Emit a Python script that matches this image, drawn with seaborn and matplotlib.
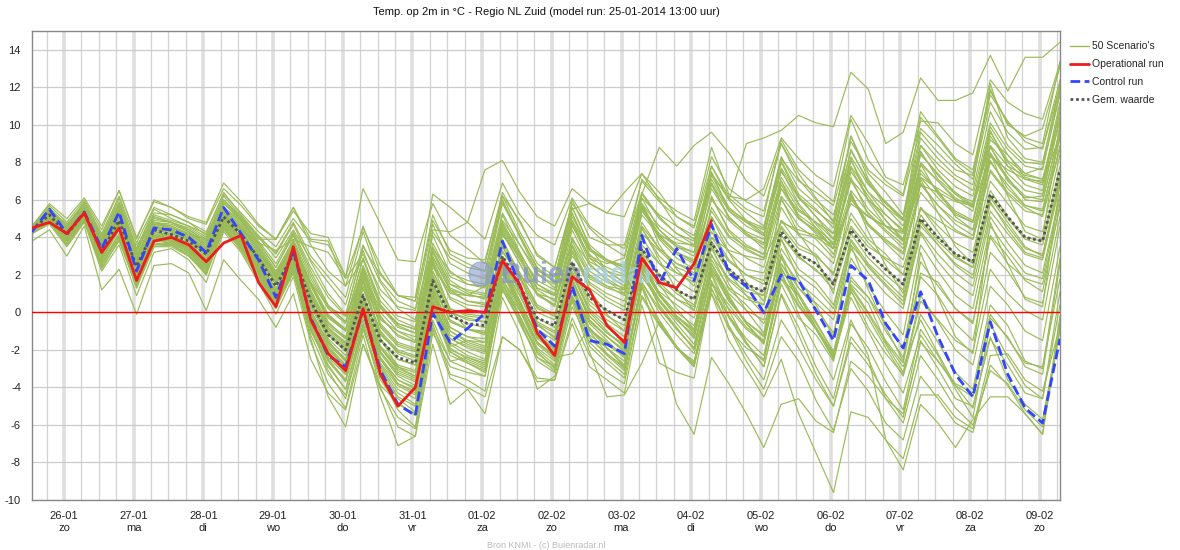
import pandas as pd
import matplotlib
matplotlib.use("Agg")
import matplotlib.pyplot as plt
from matplotlib.lines import Line2D
from matplotlib.patches import Ellipse
import seaborn as sns

# 6-hourly steps (hours after the model run of 25-01-2014 13:00)
hours = list(range(0, 355, 6))

day_dates = ["26-01", "27-01", "28-01", "29-01", "30-01", "31-01", "01-02", "02-02",
             "03-02", "04-02", "05-02", "06-02", "07-02", "08-02", "09-02"]
day_names = ["zo", "ma", "di", "wo", "do", "vr", "za", "zo",
             "ma", "di", "wo", "do", "vr", "za", "zo"]

operational = [4.5, 4.8, 4.2, 5.3, 3.2, 4.5, 1.7, 3.8, 4.0, 3.6, 2.7, 3.7, 4.1, 1.6, 0.3, 3.5,
               -0.4, -2.2, -3.1, 0.2, -3.3, -5.0, -4.0, 0.3, 0.0, 0.1, 0.0, 2.75, 1.5, -1.1,
               -2.3, 1.9, 1.2, -0.7, -1.6, 2.9, 1.6, 1.3, 2.6, 4.9]

control = [4.3, 5.5, 4.2, 5.35, 3.4, 5.35, 2.2, 4.5, 4.4, 4.0, 3.2, 5.6, 4.2, 2.8, 0.8, 3.3,
           -0.3, -2.3, -2.9, 0.1, -3.1, -4.9, -5.5, -0.05, -1.6, -0.85, -0.05, 3.8, 1.4, -0.9,
           -1.8, 1.4, -1.5, -1.7, -2.2, 4.1, 1.5, 3.4, 1.7, 4.7, 2.1, 1.4, 0.0, 2.0, 1.7, 0.1,
           -1.5, 2.5, 1.7, -0.6, -1.9, 1.1, -1.3, -3.3, -4.5, -0.5, -3.3, -5.1, -5.9, -1.4]

gem_waarde = [4.4, 5.2, 4.15, 5.3, 3.25, 4.9, 2.45, 4.4, 4.15, 3.8, 3.1, 5.1, 4.15, 2.9, 1.4, 3.1,
              0.6, -1.2, -2.0, 0.9, -1.5, -2.4, -2.7, 1.7, -0.15, -0.6, -0.7, 3.0, 1.4, -0.3,
              -0.7, 2.7, 0.8, 0.1, -0.4, 3.4, 2.0, 1.2, 0.7, 3.7, 2.3, 1.5, 1.1, 4.3, 3.1, 2.6,
              1.5, 4.4, 3.2, 2.3, 1.5, 5.0, 4.0, 3.1, 2.7, 6.3, 5.1, 4.0, 3.8, 7.6]

# 50 ensemble members, one row per member
scenarios = [
    [4.5, 5.3, 4.4, 5.5, 3.6, 5.2, 2.9, 4.7, 4.5, 4.1, 3.4, 5.5, 4.6, 3.3, 1.9, 3.6, 1.4, -0.2, -0.9, 2.0, -0.4, -1.0, -1.5, 2.9, 1.2, 0.6, 0.4, 4.2, 2.6, 1.0, 0.3, 3.8, 2.0, 1.4, 0.9, 4.8, 3.4, 2.6, 2.3, 5.4, 4.0, 3.3, 2.9, 6.2, 5.0, 4.3, 3.4, 6.5, 5.3, 4.4, 3.6, 7.2, 6.1, 5.2, 4.8, 8.5, 7.2, 6.0, 5.9, 9.8],
    [4.3, 5.4, 4.1, 5.2, 3.1, 5.0, 2.2, 4.3, 4.1, 3.7, 2.8, 5.2, 4.0, 2.5, 0.8, 2.9, -0.3, -2.4, -3.3, 0.2, -2.8, -4.1, -4.6, 0.6, -1.8, -1.5, -1.6, 2.5, 0.6, -1.4, -2.1, 1.5, -1.2, -1.9, -2.6, 2.8, 1.0, -0.2, -0.9, 3.1, 1.2, 0.4, -0.6, 1.8, 0.9, -0.8, -2.2, 1.5, 0.5, -1.6, -2.9, -0.4, -2.2, -3.9, -5.1, -1.3, -3.6, -4.9, -5.7, -0.9],
    [4.5, 5.0, 4.4, 5.6, 3.9, 5.8, 3.2, 5.2, 4.9, 4.6, 4.0, 6.2, 5.1, 4.0, 2.9, 4.4, 2.8, 1.6, 0.4, 3.6, 1.6, 0.2, -0.4, 4.3, 2.9, 2.4, 2.2, 5.9, 4.0, 2.1, 1.3, 5.1, 3.4, 2.8, 2.5, 6.1, 5.2, 4.6, 4.1, 7.4, 6.1, 5.3, 4.6, 8.2, 7.0, 6.4, 5.7, 9.1, 7.6, 6.8, 6.2, 9.8, 8.9, 7.9, 7.1, 11.2, 9.6, 8.7, 8.8, 12.4],
    [4.2, 4.9, 3.8, 5.0, 2.6, 4.0, 1.3, 3.6, 3.7, 3.2, 2.2, 4.4, 3.4, 2.0, 0.3, 2.1, -1.0, -2.8, -4.1, -0.6, -3.2, -4.6, -5.3, 0.2, -2.3, -2.7, -3.1, 1.7, 0.4, -1.6, -2.3, 1.2, -0.5, -1.3, -2.0, 2.4, 1.1, 0.4, -0.3, 3.0, 1.8, 1.1, 0.9, 4.6, 3.4, 3.0, 2.1, 5.3, 3.9, 3.1, 2.0, 5.6, 4.3, 3.0, 2.4, 6.1, 4.8, 3.5, 3.0, 7.2],
    [4.3, 5.2, 4.3, 5.4, 3.9, 4.6, 3.6, 4.8, 4.5, 4.2, 3.9, 5.0, 4.4, 3.7, 3.3, 3.9, 3.5, 3.2, 1.8, 3.1, 1.2, 0.3, 0.1, 3.4, 2.2, 1.5, 1.4, 4.1, 3.0, 1.2, 0.6, 3.9, 2.6, 1.7, 1.0, 4.2, 3.3, 2.4, 2.0, 4.6, 3.2, 2.3, 2.1, 4.9, 4.2, 4.0, 3.4, 6.0, 5.1, 4.6, 4.3, 7.2, 6.6, 6.0, 5.8, 8.9, 7.8, 7.3, 7.1, 10.2],
    [4.4, 5.1, 4.0, 5.2, 3.0, 4.7, 2.1, 4.1, 3.9, 3.5, 2.6, 4.8, 3.8, 2.4, 1.0, 2.7, 0.0, -1.9, -2.8, 0.4, -2.1, -3.3, -3.7, 1.1, -1.0, -1.6, -1.9, 2.2, 0.5, -1.3, -1.9, 1.8, -0.4, -1.3, -2.1, 2.1, 0.4, -0.8, -2.0, 1.0, -1.5, -3.0, -4.5, -2.5, -5.4, -7.5, -9.6, -5.3, -5.6, -6.8, -8.4, -4.9, -5.9, -7.2, -5.7, -4.5, -4.5, -5.4, -6.5, -0.8],
    [4.6, 5.5, 4.6, 5.7, 3.8, 5.6, 2.9, 4.8, 4.6, 4.2, 3.6, 5.6, 4.9, 3.6, 2.2, 3.8, 1.5, -0.5, -1.4, 2.1, -0.8, -1.8, -2.1, 2.8, 0.7, 0.2, -0.1, 4.5, 2.9, 1.0, 0.4, 4.4, 2.5, 1.8, 1.2, 5.5, 4.4, 3.6, 3.2, 7.1, 5.5, 4.9, 4.5, 8.3, 6.6, 5.8, 4.9, 9.4, 7.4, 6.4, 5.2, 9.6, 8.5, 7.6, 7.3, 11.8, 10.1, 9.3, 9.0, 13.4],
    [4.2, 4.8, 3.6, 4.9, 2.4, 3.8, 1.4, 3.5, 3.6, 3.0, 2.1, 4.6, 3.5, 2.1, 0.6, 2.4, -0.8, -3.1, -4.6, -0.9, -3.4, -5.2, -6.1, -0.6, -3.3, -3.6, -4.2, 0.8, -1.1, -4.1, -3.4, 0.3, -1.6, -2.5, -3.3, 1.9, 0.6, -0.4, -1.3, 2.8, 1.3, 0.7, 0.4, 4.1, 3.0, 2.2, 1.6, 4.6, 3.5, 2.9, 2.4, 5.5, 4.9, 4.3, 3.9, 7.6, 6.4, 5.6, 5.1, 8.9],
    [4.5, 5.6, 4.6, 5.9, 4.2, 6.2, 3.7, 5.6, 5.2, 4.8, 4.3, 6.3, 5.3, 4.3, 3.5, 5.0, 3.8, 3.6, 1.9, 6.6, 4.7, 2.8, 2.7, 5.8, 4.1, 3.4, 2.6, 6.4, 4.8, 3.1, 2.4, 5.6, 3.5, 2.2, 1.6, 5.6, 4.1, 3.2, 2.8, 6.0, 4.9, 4.1, 3.6, 7.0, 5.5, 4.8, 4.2, 7.8, 6.4, 5.6, 4.9, 8.6, 7.1, 6.3, 5.9, 9.6, 8.1, 7.4, 7.7, 11.6],
    [4.3, 5.0, 3.9, 5.1, 2.9, 4.4, 1.8, 3.9, 3.8, 3.3, 2.4, 4.8, 3.7, 2.2, 0.5, 2.5, -0.9, -2.9, -4.1, -0.7, -4.0, -6.1, -6.6, -1.1, -2.9, -3.2, -3.4, 1.2, -0.4, -2.6, -3.2, 0.8, -1.0, -2.2, -3.0, 1.5, -0.6, -1.9, -2.7, 1.2, -0.2, -1.4, -2.3, 2.0, 0.4, -0.9, -2.4, 1.9, 0.8, -0.6, -1.9, 2.7, 1.4, 0.2, -0.6, 4.0, 2.6, 1.8, 1.5, 5.6],
    [4.4, 5.2, 4.2, 5.3, 3.4, 5.0, 2.6, 4.5, 4.3, 3.9, 3.1, 5.2, 4.3, 2.9, 1.5, 3.2, 0.9, -0.9, -1.6, 1.4, -1.0, -2.0, -2.3, 2.2, 0.2, -0.2, -0.3, 3.5, 1.9, 0.2, -0.2, 3.2, 1.3, 0.6, 0.1, 4.0, 2.6, 1.7, 1.1, 4.3, 2.8, 2.0, 1.5, 4.9, 3.6, 3.1, 2.0, 5.0, 3.7, 2.8, 2.0, 5.6, 4.6, 3.7, 3.2, 7.0, 5.8, 4.6, 4.3, 8.4],
    [3.8, 4.4, 3.0, 4.6, 1.2, 2.3, -0.1, 2.5, 2.6, 2.1, 0.1, 2.8, 1.7, 0.7, -0.8, 1.0, -2.5, -4.3, -5.2, -1.7, -3.9, -4.8, -5.5, -0.9, -3.5, -4.0, -4.5, -1.3, -2.0, -3.5, -3.6, -0.6, -2.9, -3.6, -4.3, 0.4, -2.7, -3.2, -3.5, 1.3, -0.9, -1.9, -2.5, 1.5, -0.3, -1.2, -2.6, 1.2, -0.8, -2.2, -3.3, 0.6, -0.4, -1.5, -2.1, 2.3, 1.0, 0.1, -0.4, 4.6],
    [4.6, 5.7, 4.8, 6.0, 4.4, 6.5, 4.0, 5.9, 5.6, 5.0, 4.7, 6.6, 5.7, 4.6, 3.9, 5.4, 4.2, 4.0, 1.9, 4.5, 2.5, 0.9, 0.6, 4.9, 3.3, 2.9, 2.8, 6.2, 4.9, 3.0, 2.4, 5.8, 4.5, 3.6, 3.0, 7.1, 6.1, 5.4, 4.9, 8.8, 6.3, 5.5, 5.1, 9.2, 7.6, 6.7, 5.9, 10.3, 8.1, 7.0, 6.3, 10.7, 9.4, 8.2, 7.6, 11.9, 10.0, 9.4, 9.8, 13.1],
    [4.4, 5.3, 4.1, 5.3, 3.2, 4.9, 2.3, 4.2, 4.0, 3.6, 2.7, 5.0, 4.0, 2.6, 1.1, 2.9, 0.1, -1.6, -2.5, 0.5, -1.9, -3.0, -3.4, 1.2, -0.8, -1.3, -1.4, 2.4, 0.9, -0.9, -1.5, 2.0, 0.1, -0.8, -1.5, 2.6, 1.0, 0.0, -0.7, 2.4, 0.6, -0.5, -1.2, 2.3, 0.9, -0.6, -2.1, 1.1, -0.3, -1.9, -3.4, -0.1, -1.6, -3.2, -4.1, 0.4, -0.7, -2.6, -3.0, 2.9],
    [4.5, 5.4, 4.4, 5.5, 3.7, 5.5, 3.0, 4.8, 4.7, 4.3, 3.7, 5.8, 5.0, 3.7, 2.4, 4.2, 2.2, 0.4, -0.5, 2.9, 0.6, -0.4, -0.8, 4.4, 4.3, 4.8, 7.6, 8.1, 6.4, 5.1, 4.6, 6.6, 5.8, 5.3, 5.1, 7.4, 6.4, 5.1, 4.5, 7.8, 6.0, 4.9, 4.2, 7.6, 5.8, 4.7, 3.6, 7.5, 6.2, 4.9, 3.8, 7.4, 6.5, 5.1, 4.4, 8.4, 7.1, 6.2, 6.0, 9.6],
    [4.3, 5.1, 4.0, 5.2, 3.0, 4.7, 2.0, 4.2, 3.9, 3.4, 2.4, 5.0, 3.9, 2.3, 0.7, 2.8, -0.5, -2.5, -3.6, 0.1, -2.5, -3.6, -4.0, 1.0, -1.4, -1.9, -2.2, 2.6, 0.9, -1.1, -1.8, 2.1, 0.0, -1.0, -1.9, 3.1, 1.5, 0.2, -0.9, 3.5, 1.5, 0.1, -1.1, 3.9, 1.8, 0.4, -1.3, 3.6, 1.2, -0.8, -2.6, 3.2, 0.8, -1.3, -2.2, 4.8, 2.6, 0.7, 0.3, 6.9],
    [4.4, 5.3, 4.3, 5.4, 3.5, 5.1, 2.7, 4.6, 4.4, 4.0, 3.3, 5.4, 4.5, 3.2, 1.8, 3.5, 1.2, -0.6, -1.3, 1.8, -0.6, -1.6, -1.9, 2.6, 0.8, 0.4, 0.3, 4.3, 2.6, 0.9, 0.4, 4.0, 2.2, 1.6, 1.3, 5.4, 4.2, 3.5, 3.2, 7.4, 6.0, 9.0, 9.3, 9.7, 10.5, 10.1, 9.9, 12.8, 11.9, 9.0, 9.6, 12.5, 11.3, 11.3, 11.7, 13.7, 11.8, 13.6, 13.6, 14.4],
    [4.3, 5.0, 3.9, 5.1, 2.8, 4.5, 1.9, 4.0, 3.8, 3.3, 2.5, 4.7, 3.8, 2.4, 1.0, 2.6, -0.2, -1.9, -3.0, 0.1, -2.2, -3.4, -3.9, 0.5, -1.6, -2.1, -2.5, 1.8, -0.2, -2.1, -3.0, 0.6, -2.1, -4.5, -4.4, -2.7, -0.5, -1.9, -2.6, 1.5, 0.2, -0.9, -1.6, 2.6, 1.3, 0.5, -0.4, 3.4, 2.1, 1.0, 0.2, 4.2, 2.7, 1.6, 0.9, 5.1, 3.7, 2.5, 2.1, 6.3],
    [4.5, 5.4, 4.5, 5.6, 3.8, 5.4, 3.0, 4.9, 4.8, 4.3, 3.6, 5.6, 4.8, 3.5, 2.1, 3.9, 1.8, 0.2, -0.6, 2.5, 0.3, -0.8, -1.1, 3.3, 1.5, 1.0, 0.7, 4.7, 3.1, 1.7, 1.2, 4.9, 3.3, 2.7, 2.4, 5.8, 3.6, 2.3, 1.4, 4.6, 2.1, 0.9, -0.1, 3.0, 0.6, -0.9, -2.4, 0.8, -1.0, -2.8, -4.3, -1.2, -2.6, -3.9, -4.5, -0.3, -1.3, -2.9, -3.3, 2.6],
    [4.2, 4.7, 3.5, 4.8, 2.2, 3.6, 0.9, 3.2, 3.4, 2.8, 1.6, 4.3, 3.2, 1.6, -0.1, 1.9, -1.6, -3.8, -5.1, -1.2, -4.5, -7.1, -6.6, -1.7, -4.9, -4.1, -5.4, -1.3, -2.0, -3.7, -3.6, -0.3, -2.3, -3.2, -3.8, 0.8, -0.7, -1.9, -2.9, 1.6, 0.4, -0.8, -1.5, 2.9, 1.6, 0.8, -0.1, 3.6, 2.5, 1.5, 0.6, 4.6, 3.6, 2.5, 1.8, 5.9, 4.4, 3.2, 2.9, 7.0],
    [4.4, 5.1, 4.3, 5.2, 3.6, 4.8, 3.1, 4.4, 4.2, 3.9, 3.4, 4.8, 4.0, 3.1, 2.2, 3.3, 1.6, 0.3, -0.2, 1.9, 0.2, -0.6, -0.9, 2.4, 1.1, 0.6, 0.5, 3.2, 2.0, 1.0, 0.7, 3.0, 1.8, 1.3, 1.0, 3.6, 2.6, 2.1, 1.8, 4.0, 3.3, 3.0, 2.8, 4.8, 4.4, 4.1, 3.6, 5.8, 5.1, 4.6, 4.2, 6.8, 6.4, 5.9, 5.7, 8.3, 7.6, 7.1, 7.0, 9.4],
    [4.3, 5.2, 4.1, 5.2, 3.0, 4.6, 2.1, 4.1, 3.9, 3.5, 2.7, 4.8, 3.8, 2.3, 0.9, 2.8, -0.4, -2.0, -2.9, 0.2, -2.5, -3.8, -4.2, 0.8, -1.7, -2.3, -2.6, 2.1, 0.2, -1.6, -2.3, 1.6, -0.9, -1.7, -2.4, 2.3, 0.3, -0.9, -1.9, 2.1, 0.1, -1.6, -2.9, 1.0, -0.8, -2.9, -4.6, -0.6, -1.9, -3.7, -5.2, -0.9, -2.3, -4.1, -5.6, -0.6, -2.4, -3.9, -4.6, 1.1],
    [4.5, 5.5, 4.6, 5.8, 4.0, 6.1, 3.4, 5.5, 5.0, 4.6, 4.2, 6.4, 5.2, 4.1, 3.1, 4.7, 2.7, 1.0, -0.1, 3.3, 0.9, -0.2, -0.5, 4.1, 2.1, 1.7, 1.5, 5.8, 4.1, 2.4, 1.6, 6.0, 4.0, 3.6, 3.6, 7.0, 5.9, 5.1, 4.6, 8.3, 6.6, 5.9, 5.4, 9.0, 7.4, 6.1, 4.8, 9.4, 7.1, 5.8, 4.9, 10.4, 9.3, 8.1, 7.4, 11.6, 10.2, 9.1, 8.7, 12.1],
    [4.4, 5.2, 4.0, 5.3, 3.1, 4.7, 2.4, 4.3, 4.1, 3.7, 2.9, 5.0, 4.0, 2.7, 1.2, 3.0, 0.3, -1.4, -2.3, 0.7, -1.8, -2.8, -3.1, 1.4, -0.5, -0.9, -1.1, 2.8, 1.2, -0.5, -1.0, 2.5, 0.6, -0.2, -0.7, 3.2, 1.9, 1.0, 0.4, 3.6, 2.1, 1.3, 0.9, 4.1, 2.9, 2.3, 1.2, 4.2, 2.9, 2.0, 1.2, 4.9, 3.8, 2.9, 2.4, 6.2, 5.0, 3.9, 3.6, 7.4],
    [4.5, 5.3, 4.3, 5.4, 3.5, 5.2, 2.8, 4.6, 4.4, 4.0, 3.2, 5.3, 4.4, 3.0, 1.6, 3.3, 1.0, -0.7, -1.4, 1.7, -0.7, -1.7, -2.0, 2.7, 1.0, 0.9, 1.4, 4.9, 3.6, 2.2, 1.9, 5.5, 5.8, 5.3, 6.4, 7.4, 6.0, 4.6, 3.9, 6.8, 5.1, 4.2, 3.4, 6.6, 5.1, 4.2, 3.1, 6.1, 4.6, 3.8, 3.1, 6.4, 5.3, 4.4, 3.9, 7.5, 6.3, 5.4, 5.2, 8.7],
    [4.3, 5.1, 4.0, 5.2, 2.9, 4.6, 2.1, 4.1, 3.9, 3.5, 2.6, 4.9, 3.9, 2.5, 1.0, 2.8, 0.1, -1.6, -2.5, 0.6, -1.9, -2.9, -3.2, 1.3, -0.8, -1.3, -1.6, 2.5, 0.6, -1.3, -2.0, 1.7, -0.4, -1.3, -2.1, 2.2, 0.6, -0.6, -1.7, 2.0, -0.2, -1.6, -2.9, 0.9, -1.2, -3.3, -5.0, -1.3, -2.5, -4.6, -5.9, -2.3, -3.6, -5.1, -6.0, -3.1, -3.8, -5.2, -6.1, -0.5],
    [4.4, 5.2, 4.3, 5.4, 3.5, 5.0, 2.7, 4.6, 4.4, 4.0, 3.3, 5.3, 4.3, 3.0, 1.6, 3.3, 0.9, -0.9, -1.7, 1.3, -1.2, -2.1, -2.4, 2.0, 0.0, -0.4, -0.5, 3.3, 1.8, 0.0, -0.4, 3.3, 1.6, 1.0, 0.6, 4.6, 3.4, 2.6, 2.1, 5.6, 4.1, 3.5, 3.1, 6.6, 5.4, 4.8, 3.9, 7.1, 6.0, 5.2, 4.4, 7.9, 7.0, 6.1, 5.6, 9.2, 8.4, 7.4, 7.1, 10.7],
    [4.2, 4.9, 3.7, 5.0, 2.5, 4.0, 1.5, 3.6, 3.6, 3.1, 2.0, 4.5, 3.4, 1.9, 0.2, 2.2, -1.4, -4.5, -6.1, -1.7, -4.1, -5.6, -6.2, -0.8, -2.6, -2.4, -2.8, 1.4, 0.1, -1.9, -2.6, 1.1, -0.6, -1.5, -2.4, 2.2, 0.7, -0.4, -1.2, 2.6, 1.0, 0.1, -0.4, 3.4, 2.0, 1.3, 0.2, 3.9, 2.6, 1.7, 0.8, 4.8, 3.6, 2.6, 2.0, 5.8, 4.6, 3.4, 3.1, 7.1],
    [4.6, 5.8, 5.0, 6.1, 4.6, 6.5, 3.9, 6.0, 5.6, 5.1, 4.8, 6.9, 5.9, 4.7, 3.9, 5.6, 3.6, 2.2, 1.4, 4.6, 2.1, 0.9, 0.6, 5.2, 3.1, 2.6, 2.2, 6.2, 4.3, 2.6, 1.9, 5.6, 3.6, 2.8, 2.2, 6.1, 4.4, 3.5, 3.0, 6.6, 5.1, 4.2, 3.7, 7.2, 5.7, 4.5, 3.4, 7.7, 6.0, 4.9, 3.9, 8.5, 7.3, 6.4, 5.7, 9.9, 8.4, 7.2, 6.9, 11.2],
    [4.3, 5.1, 4.1, 5.2, 3.2, 4.8, 2.3, 4.3, 4.1, 3.6, 2.8, 5.0, 4.0, 2.6, 1.2, 2.9, 0.4, -1.2, -2.1, 0.9, -1.4, -2.5, -2.8, 1.5, -0.4, -0.9, -1.0, 2.9, 1.1, -0.7, -1.3, 2.2, 0.2, -0.6, -1.3, 2.9, 1.0, -0.3, -1.4, 2.3, 0.9, -0.6, -1.6, 2.6, 1.0, -0.5, -2.1, 1.7, 0.8, -1.0, -2.4, 2.1, 1.6, 0.2, -0.5, 4.1, 3.0, 1.7, 1.1, 5.8],
    [4.4, 5.3, 4.2, 5.4, 3.4, 5.1, 2.6, 4.6, 4.3, 3.9, 3.2, 5.3, 4.3, 3.1, 1.7, 3.4, 1.1, -0.8, -1.6, 1.6, -1.1, -2.2, -2.6, 1.9, 0.0, -0.3, -0.5, 3.5, 2.1, 0.4, -0.1, 3.6, 1.9, 1.4, 1.2, 5.2, 4.1, 3.7, 3.6, 7.8, 6.2, 6.0, 6.6, 9.3, 8.2, 7.3, 6.7, 10.5, 9.0, 7.2, 6.8, 10.2, 10.1, 9.0, 8.4, 12.4, 11.2, 10.6, 10.3, 13.3],
    [4.3, 5.0, 3.8, 5.1, 2.8, 4.4, 1.9, 3.9, 3.7, 3.2, 2.3, 4.6, 3.6, 2.1, 0.6, 2.4, -0.6, -2.4, -3.3, -0.1, -2.7, -3.9, -4.4, 0.4, -1.9, -2.5, -2.9, 1.6, -0.3, -2.2, -2.9, 0.8, -1.3, -2.3, -3.1, 1.3, -0.4, -1.8, -2.8, 1.0, -0.8, -2.6, -4.1, -1.3, -2.6, -4.7, -6.3, -3.0, -4.2, -5.9, -6.8, -3.4, -4.6, -5.9, -6.4, -2.8, -3.9, -5.4, -6.5, -0.2],
    [4.5, 5.4, 4.5, 5.6, 3.8, 5.5, 3.0, 5.0, 4.8, 4.4, 3.8, 5.8, 4.9, 3.8, 2.6, 4.3, 2.4, 0.8, -0.2, 3.5, 2.0, 0.9, 0.8, 6.3, 5.6, 4.8, 3.9, 6.9, 5.2, 4.1, 3.6, 6.1, 4.6, 3.9, 3.4, 6.4, 5.1, 4.2, 3.8, 6.9, 5.4, 4.6, 4.1, 7.5, 6.1, 5.1, 4.2, 8.3, 6.8, 5.9, 5.0, 8.9, 7.6, 6.7, 6.2, 10.1, 8.7, 7.8, 7.6, 11.8],
    [4.3, 5.1, 4.0, 5.1, 3.0, 4.6, 2.1, 4.0, 3.9, 3.4, 2.5, 4.8, 3.8, 2.4, 0.9, 2.7, -0.1, -1.8, -2.8, 0.3, -2.1, -3.2, -3.6, 0.9, -1.2, -1.7, -2.0, 2.2, 0.3, -1.6, -2.4, -2.2, -0.8, -1.9, -2.9, 1.4, -1.6, -4.9, -6.5, -2.4, -3.8, -5.4, -7.2, -4.9, -4.6, -5.8, -6.4, -2.6, -3.4, -4.6, -5.4, -1.6, -2.6, -3.8, -4.3, -0.1, -1.4, -2.7, -2.9, 1.8],
    [4.5, 5.5, 4.7, 5.8, 4.1, 5.9, 3.4, 5.3, 5.2, 4.8, 4.1, 6.0, 5.1, 4.0, 3.2, 4.8, 3.0, 1.9, 0.8, 4.3, 1.7, 0.6, 0.2, 4.7, 2.6, 2.1, 1.8, 6.0, 4.1, 2.3, 1.6, 5.3, 3.1, 2.2, 1.6, 5.5, 4.0, 3.1, 2.6, 6.2, 4.3, 3.4, 2.9, 6.8, 5.2, 4.5, 3.7, 7.0, 5.5, 4.6, 3.8, 7.6, 6.4, 5.4, 4.9, 8.8, 7.4, 6.5, 6.3, 10.4],
    [4.2, 4.8, 3.6, 4.9, 2.3, 3.9, 1.3, 3.5, 3.5, 3.0, 2.0, 4.5, 3.3, 1.8, 0.3, 2.2, -1.2, -3.3, -4.4, -0.9, -3.6, -4.9, -5.4, -0.4, -2.6, -3.0, -3.4, 1.3, -0.2, -2.0, -2.8, 0.9, -0.9, -1.6, -2.3, 2.6, 1.4, 0.7, 0.3, 4.0, 2.7, 2.0, 1.7, 5.6, 4.1, 3.5, 2.6, 6.2, 4.7, 3.9, 3.2, 6.9, 5.7, 4.9, 4.4, 8.1, 6.6, 5.7, 5.4, 9.3],
    [4.4, 5.3, 4.1, 5.4, 3.2, 5.3, 2.0, 4.6, 4.3, 3.9, 2.6, 5.5, 4.4, 2.6, 0.8, 3.5, 0.7, -1.5, -2.6, 1.8, -1.4, -2.9, -3.4, 2.6, 0.1, -0.9, -1.2, 3.9, 2.0, -0.6, -1.4, 3.6, 1.2, -0.1, -1.0, 4.5, 2.8, 1.2, 0.1, 5.1, 3.2, 1.6, 0.6, 6.1, 4.2, 2.9, 1.0, 6.4, 4.3, 2.5, 1.0, 7.1, 5.3, 3.5, 2.6, 8.5, 6.2, 4.3, 3.9, 10.1],
    [4.3, 5.0, 3.9, 5.1, 2.9, 4.5, 2.0, 4.0, 3.8, 3.4, 2.4, 4.8, 3.8, 2.3, 0.8, 2.6, -0.3, -2.1, -3.1, 0.0, -2.4, -3.6, -4.1, 0.6, -1.4, -1.8, -2.1, 2.1, 0.5, -1.2, -1.9, 1.7, -0.2, -1.1, -1.7, 2.4, 0.9, -0.2, -1.0, 2.6, 0.8, -0.6, -1.7, 2.2, -0.1, -1.9, -3.6, -0.4, -2.3, -6.8, -7.8, -4.4, -4.4, -5.6, -6.2, -2.3, -2.2, -3.6, -4.2, -0.7],
    [4.5, 5.3, 4.3, 5.4, 3.6, 5.2, 2.8, 4.7, 4.5, 4.1, 3.4, 5.4, 4.5, 3.2, 1.9, 3.6, 1.4, -0.3, -1.0, 2.2, -0.3, -1.2, -1.6, 3.0, 1.2, 0.9, 0.8, 4.4, 2.8, 1.3, 0.9, 4.6, 3.0, 2.6, 2.9, 6.3, 8.8, 7.8, 8.9, 9.6, 8.5, 7.0, 6.2, 9.0, 7.1, 6.0, 5.2, 8.6, 7.0, 5.6, 4.6, 8.4, 7.4, 6.3, 5.6, 9.4, 8.0, 7.1, 6.8, 10.7],
    [4.3, 5.0, 3.9, 5.1, 2.7, 4.2, 1.7, 3.8, 3.7, 3.2, 2.2, 4.6, 3.6, 2.0, 0.4, 2.3, -0.9, -2.6, -3.7, -0.4, -3.0, -4.5, -5.0, 0.0, -2.1, -2.6, -3.0, 1.6, -0.6, -2.4, -3.1, 0.8, -1.8, -2.7, -3.5, 0.9, -0.6, -1.9, -2.9, 1.6, -0.3, -1.7, -2.6, 1.8, 0.3, -0.9, -2.5, 1.4, 0.0, -1.5, -2.7, 1.9, 0.9, -0.6, -1.5, 3.2, 2.2, 0.8, 0.5, 5.1],
    [4.5, 5.4, 4.4, 5.6, 3.9, 5.7, 3.3, 5.1, 4.8, 4.5, 3.9, 6.0, 5.0, 3.9, 3.9, 5.6, 3.9, 3.8, 1.4, 2.8, 0.4, -0.7, -1.1, 3.5, 1.7, 1.1, 0.9, 5.2, 3.2, 1.5, 0.9, 4.9, 2.9, 2.0, 1.4, 5.7, 3.9, 2.9, 2.3, 6.1, 4.4, 3.6, 3.1, 7.0, 5.0, 4.4, 3.4, 7.2, 5.2, 4.3, 3.4, 7.9, 6.3, 5.3, 4.8, 8.9, 7.0, 6.1, 6.2, 10.4],
    [4.3, 5.1, 3.9, 5.1, 2.9, 4.5, 1.9, 4.0, 3.8, 3.3, 2.4, 4.7, 3.7, 2.2, 0.7, 2.5, -0.4, -2.2, -3.2, 0.0, -2.5, -3.8, -4.3, 0.3, -2.0, -2.4, -2.7, 1.8, 0.1, -1.7, -2.5, 1.3, -0.9, -1.9, -2.8, 1.6, 0.0, -1.2, -2.2, 1.7, -0.7, -2.3, -3.6, -0.4, -1.9, -3.6, -5.0, -1.6, -2.8, -4.4, -5.6, -1.5, -3.0, -4.6, -5.0, -1.4, -2.8, -4.3, -4.6, 0.4],
    [4.5, 5.4, 4.4, 5.5, 3.7, 5.4, 2.9, 4.8, 4.6, 4.2, 3.5, 5.6, 4.7, 3.4, 2.0, 3.7, 1.6, -0.1, -0.9, 2.4, 0.0, -1.0, -1.3, 3.3, 1.5, 1.2, 1.0, 4.8, 3.2, 1.5, 1.0, 4.8, 2.9, 2.4, 2.0, 5.8, 4.1, 3.2, 2.7, 6.9, 5.0, 4.3, 3.9, 8.1, 6.3, 5.5, 4.5, 8.7, 6.9, 5.8, 5.0, 9.3, 8.2, 7.3, 6.8, 12.2, 9.3, 8.2, 8.0, 12.0],
    [4.2, 4.9, 3.8, 5.0, 2.6, 4.1, 1.6, 3.7, 3.6, 3.1, 2.1, 4.5, 3.5, 2.0, 0.5, 2.3, -0.7, -2.6, -3.6, -0.2, -2.9, -4.3, -4.9, 0.1, -2.1, -2.7, -3.2, 1.2, -0.5, -2.4, -2.9, 0.7, -1.4, -2.2, -2.9, 1.6, 0.2, -0.9, -1.9, 2.2, 0.6, -0.5, -1.3, 3.1, 1.3, 0.2, -1.1, 2.9, 1.4, 0.0, -1.2, 3.6, 2.2, 0.9, 0.2, 4.6, 3.3, 2.1, 1.8, 6.1],
    [4.5, 5.3, 4.3, 5.4, 3.6, 5.3, 2.8, 4.7, 4.5, 4.1, 3.4, 5.5, 4.6, 3.4, 2.0, 3.7, 1.5, -0.2, -1.0, 2.3, -0.2, -1.3, -1.6, 3.2, 1.3, 0.9, 0.8, 4.6, 3.0, 1.3, 0.9, 4.7, 2.7, 2.2, 1.9, 5.8, 4.6, 3.9, 3.5, 7.5, 5.4, 4.8, 4.4, 8.0, 6.1, 5.4, 4.7, 8.2, 5.9, 4.6, 3.8, 8.0, 7.0, 6.0, 5.4, 9.7, 7.8, 6.8, 6.5, 11.0],
    [4.4, 5.1, 4.1, 5.2, 3.1, 4.8, 2.3, 4.3, 4.0, 3.6, 2.8, 4.9, 4.0, 2.6, 1.2, 3.0, 0.5, -1.1, -1.9, 1.0, -1.5, -2.5, -2.8, 1.6, -0.5, -0.9, -1.1, 2.7, 1.1, -0.6, -1.1, 2.4, 0.4, -0.4, -1.0, 2.9, 1.6, 0.7, 0.1, 3.4, 1.7, 0.9, 0.4, 3.9, 2.3, 1.6, 0.4, 3.8, 2.4, 1.4, 0.4, 4.3, 3.1, 2.1, 1.4, 5.4, 4.2, 3.1, 2.8, 6.8],
    [4.4, 5.2, 4.2, 5.3, 3.4, 5.0, 2.6, 4.5, 4.3, 3.9, 3.1, 5.2, 4.3, 2.9, 1.5, 3.3, 0.8, -1.0, -1.8, 1.3, -1.1, -2.1, -2.4, 2.2, 0.2, -0.1, -0.2, 3.7, 2.1, 0.3, -0.2, 3.5, 1.5, 0.8, 0.3, 4.5, 3.0, 2.1, 1.6, 5.1, 3.6, 2.9, 2.4, 6.0, 4.6, 3.9, 2.9, 6.3, 4.7, 3.7, 2.8, 6.8, 5.7, 4.7, 4.1, 8.0, 6.8, 5.7, 5.5, 9.4],
    [4.3, 5.0, 4.0, 5.1, 3.0, 4.6, 2.1, 4.1, 3.9, 3.4, 2.6, 4.8, 3.8, 2.4, 0.9, 2.7, 0.1, -1.7, -2.6, 0.5, -1.9, -3.1, -3.5, 1.0, -1.0, -1.5, -1.8, 2.3, 0.6, -1.3, -1.9, 1.8, -0.2, -1.1, -1.8, 2.5, 0.9, -0.2, -1.1, 2.6, 0.7, -0.6, -1.6, 2.4, 0.6, -0.8, -2.3, 1.3, -0.1, -1.7, -3.2, 0.9, -0.5, -2.0, -2.8, 1.4, 0.4, -1.0, -1.5, 3.5],
    [4.5, 5.5, 4.5, 5.6, 3.9, 5.7, 3.2, 5.1, 4.8, 4.4, 3.8, 5.9, 4.9, 3.7, 2.4, 4.1, 2.0, 0.3, -0.5, 2.9, 0.4, -0.6, -0.9, 3.7, 1.9, 1.5, 1.3, 5.3, 3.6, 2.0, 1.5, 5.3, 3.3, 2.8, 2.4, 6.3, 5.0, 4.2, 3.6, 7.3, 5.6, 4.8, 4.1, 7.7, 6.2, 5.1, 3.9, 8.1, 6.4, 5.2, 4.3, 8.9, 7.9, 7.1, 6.5, 10.7, 8.9, 8.0, 7.9, 12.2],
    [4.4, 5.2, 4.2, 5.3, 3.3, 4.9, 2.5, 4.4, 4.2, 3.8, 3.0, 5.1, 4.2, 2.8, 1.3, 3.1, 0.6, -1.2, -2.0, 0.9, -1.5, -2.5, -2.8, 1.8, -0.2, -0.6, -0.8, 3.0, 1.4, -0.3, -0.8, 2.7, 0.8, 0.1, -0.4, 3.4, 2.0, 1.2, 0.7, 3.8, 2.3, 1.5, 1.1, 4.5, 3.1, 2.6, 1.5, 4.5, 3.2, 2.3, 1.5, 5.2, 4.0, 3.1, 2.7, 6.5, 5.1, 4.0, 3.8, 7.8],
]

for k, row in enumerate(scenarios):
    assert len(row) == len(hours), (k, len(row))

GREEN = "#9bbb59"
RED = "#ee1c1c"
BLUE = "#3344ff"
GREY = "#555555"

sns.set_style("white")
plt.rcParams["font.family"] = ["Liberation Sans", "DejaVu Sans"]
plt.rcParams["axes.unicode_minus"] = False

scen_df = pd.DataFrame(
    [(m, h, v) for m, row in enumerate(scenarios) for h, v in zip(hours, row)],
    columns=["member", "hour", "temp"],
)

fig = plt.figure(figsize=(11.8, 5.5), dpi=100)
ax = fig.add_axes([32 / 1180, 50 / 550, 1028 / 1180, 469 / 550])

# background grid: 6-hourly thin lines, thicker line at midnight
ax.vlines(range(5, 355, 6), -10, 15, color="#d2d2d2", lw=0.9, zorder=0)
ax.vlines(range(11, 355, 24), -10, 15, color="#dfdfdf", lw=2.6, zorder=0)
ax.set_yticks(range(-10, 15, 2))
ax.grid(axis="y", color="#cccccc", lw=0.9, zorder=0)
ax.set_axisbelow(True)

sns.lineplot(data=scen_df, x="hour", y="temp", units="member", estimator=None,
             color=GREEN, lw=0.85, ax=ax, legend=False, zorder=2)
ax.axhline(0, color="#ff0000", lw=1, zorder=3)
sns.lineplot(x=hours, y=gem_waarde, color=GREY, lw=2, linestyle=(0, (1, 1)),
             ax=ax, zorder=4)
sns.lineplot(x=hours, y=control, color=BLUE, lw=2, linestyle=(0, (3.5, 1.6)),
             ax=ax, zorder=5)
sns.lineplot(x=hours[:len(operational)], y=operational, color=RED, lw=2,
             ax=ax, zorder=6)

# Buienradar watermark
ax.add_patch(Ellipse((481 / 1180, 1 - 274 / 550), 24 / 1180, 24 / 550,
                     transform=fig.transFigure, color="#8c9ccc", alpha=0.6,
                     zorder=2.5, clip_on=False))
ax.text(582 / 1180, 1 - 275 / 550, "Buien", transform=fig.transFigure, ha="right",
        va="center", fontsize=21, fontweight="bold", color="#8494c8", alpha=0.75,
        zorder=2.5)
ax.text(582 / 1180, 1 - 275 / 550, "radar", transform=fig.transFigure, ha="left",
        va="center", fontsize=21, fontweight="bold", color="#a6cfea", alpha=0.75,
        zorder=2.5)

ax.set_xlim(0, 354)
ax.set_ylim(-10, 15)
ax.set_xticks(list(range(11, 355, 24)))
ax.set_xticklabels([f"{d}\n{n}" for d, n in zip(day_dates, day_names)])
ax.set_xlabel("")
ax.set_ylabel("")
ax.tick_params(axis="both", length=0, labelsize=8, colors="#222222")
ax.tick_params(axis="x", pad=8)
ax.tick_params(axis="y", pad=8)
for side in ["left", "bottom", "top", "right"]:
    ax.spines[side].set_visible(True)
    ax.spines[side].set_color("#888888")
    ax.spines[side].set_linewidth(1)

handles = [
    Line2D([], [], color=GREEN, lw=1),
    Line2D([], [], color=RED, lw=2),
    Line2D([], [], color=BLUE, lw=2, linestyle=(0, (3.5, 1.6))),
    Line2D([], [], color=GREY, lw=2, linestyle=(0, (1, 1))),
]
labels = ["50 Scenario's", "Operational run", "Control run", "Gem. waarde"]
fig.legend(handles, labels, loc="upper left", bbox_to_anchor=(1061 / 1180, 1 - 32 / 550),
           frameon=False, fontsize=7.5, handlelength=1.8, handletextpad=0.3,
           labelspacing=0.75)

fig.text(546 / 1180, 1 - 12 / 550,
         "Temp. op 2m in °C - Regio NL Zuid (model run: 25-01-2014 13:00 uur)",
         ha="center", va="center", fontsize=8, color="#111111")
fig.text(546 / 1180, 1 - 545 / 550, "Bron KNMI - (c) Buienradar.nl",
         ha="center", va="center", fontsize=6.5, color="#bbbbbb")

fig.savefig("out.png", dpi=100)
